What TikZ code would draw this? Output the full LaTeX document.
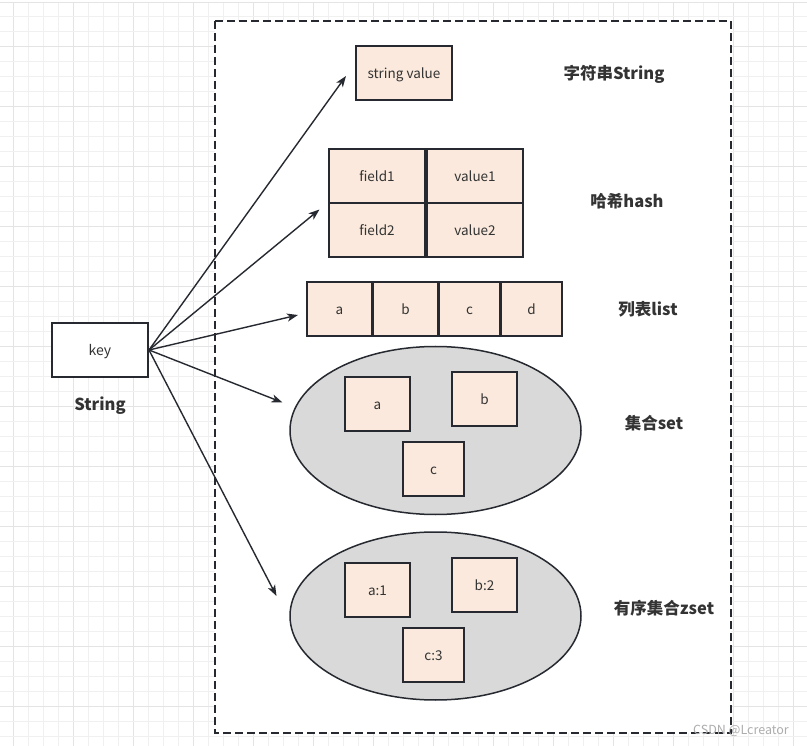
\documentclass[tikz,border=0pt]{standalone}
\usepackage{fontspec}
\setmainfont{Noto Sans CJK SC}
\usetikzlibrary{shapes.geometric,arrows.meta}
\definecolor{linec}{HTML}{262A30}
\definecolor{cellfill}{HTML}{FAE9DC}
\definecolor{txt}{HTML}{333333}
\definecolor{gridminor}{HTML}{F0F0F0}
\definecolor{gridmajor}{HTML}{E4E4E4}
\definecolor{setfill}{HTML}{D9D9D9}
\tikzset{
  cell/.style={draw=linec, fill=cellfill, line width=2pt, inner sep=0pt, text=txt,
    font=\fontsize{13.5}{15}\selectfont, minimum height=54pt, text height=11pt, text depth=0pt},
  keybox/.style={draw=linec, fill=white, line width=2pt, inner sep=0pt, text=txt,
    font=\fontsize{14}{16}\selectfont, minimum width=96pt, minimum height=54pt,
    text height=12pt, text depth=0pt},
  setshape/.style={ellipse, draw=linec, fill=setfill, line width=1.5pt, inner sep=0pt,
    minimum width=291pt, minimum height=168pt},
  lbl/.style={text=txt, font=\bfseries\fontsize{16.5}{18}\selectfont, inner sep=0pt,
    text height=12pt, text depth=0pt},
  arr/.style={draw=linec, line width=1.4pt, -{Stealth[length=11pt,width=8pt,inset=3pt]}},
  frame/.style={draw=linec, line width=2pt, dash pattern=on 8pt off 4pt, fill=white},
}
\begin{document}
\begin{tikzpicture}[x=1pt,y=-1pt]
\useasboundingbox (0,0) rectangle (807,746);
\fill[white] (0,0) rectangle (807,746);
% grid
\foreach \k in {0,...,52}{
  \pgfmathsetmacro{\xx}{13.33+15*\k}
  \pgfmathtruncatemacro{\m}{mod(\k,4)}
  \ifnum\m=0
    \draw[gridmajor, line width=1pt] (\xx,3) -- (\xx,746);
  \else
    \draw[gridminor, line width=1pt] (\xx,3) -- (\xx,746);
  \fi
}
\foreach \k in {1,...,49}{
  \pgfmathsetmacro{\yy}{1.67+15*\k}
  \pgfmathtruncatemacro{\m}{mod(\k,4)}
  \ifnum\m=3
    \draw[gridmajor, line width=1pt] (0,\yy) -- (807,\yy);
  \else
    \draw[gridminor, line width=1pt] (0,\yy) -- (807,\yy);
  \fi
}
\draw[gridmajor, line width=1pt] (0,2.7) -- (807,2.7);
% frame
\path[frame] (215,21) rectangle (731,733);

% key
\node[keybox] (key) at (100,350) {key};
\node[lbl] (keylbl) at (100,405) {String};

% string
\node[cell, minimum width=96pt] (sv) at (404,73) {string value};
\node[lbl] (l1) at (614,74) {字符串String};

% hash
\node[cell, minimum width=96pt] (f1) at (377,176) {field1};
\node[cell, minimum width=96pt] (v1) at (475,176) {value1};
\node[cell, minimum width=96pt] (f2) at (377,230) {field2};
\node[cell, minimum width=96pt] (v2) at (475,230) {value2};
\node[lbl] (l2) at (627,202) {哈希hash};

% list
\node[cell, minimum width=65pt] (la) at (339.5,309) {a};
\node[cell, minimum width=65pt] (lb) at (405.5,309) {b};
\node[cell, minimum width=61pt] (lc) at (469.5,309) {c};
\node[cell, minimum width=61pt] (ld) at (531.5,309) {d};
\node[lbl] (l3) at (648,310) {列表list};

% set
\node[setshape] (set) at (435.5,430.5) {};
\node[cell, minimum width=65pt] (sa) at (377.5,404) {a};
\node[cell, minimum width=65pt] (sb) at (484.5,399) {b};
\node[cell, minimum width=61pt] (sc) at (433.5,469) {c};
\node[lbl] (l4) at (654,423) {集合set};

% zset
\node[setshape] (zset) at (435.5,616) {};
\node[cell, minimum width=65pt] (za) at (377.5,590) {a:1};
\node[cell, minimum width=65pt] (zb) at (484.5,585) {b:2};
\node[cell, minimum width=61pt] (zc) at (433.5,655) {c:3};
\node[lbl] (l5) at (664,608) {有序集合zset};

% arrow tips
\coordinate (t1) at (346,76);
\coordinate (t2) at (319.5,209.5);
\coordinate (t3) at (298,315);
\coordinate (t4) at (282.5,402.5);
\coordinate (t5) at (276.5,596);
\draw[arr] (key.east) -- (t1);
\draw[arr] (key.east) -- (t2);
\draw[arr] (key.east) -- (t3);
\draw[arr] (key.east) -- (t4);
\draw[arr] (key.east) -- (t5);

% watermark
\node[text=black!32, font=\fontsize{12.5}{14}\selectfont, inner sep=0pt] (wm) at (741,731) {CSDN @Lcreator};
\end{tikzpicture}
\end{document}
